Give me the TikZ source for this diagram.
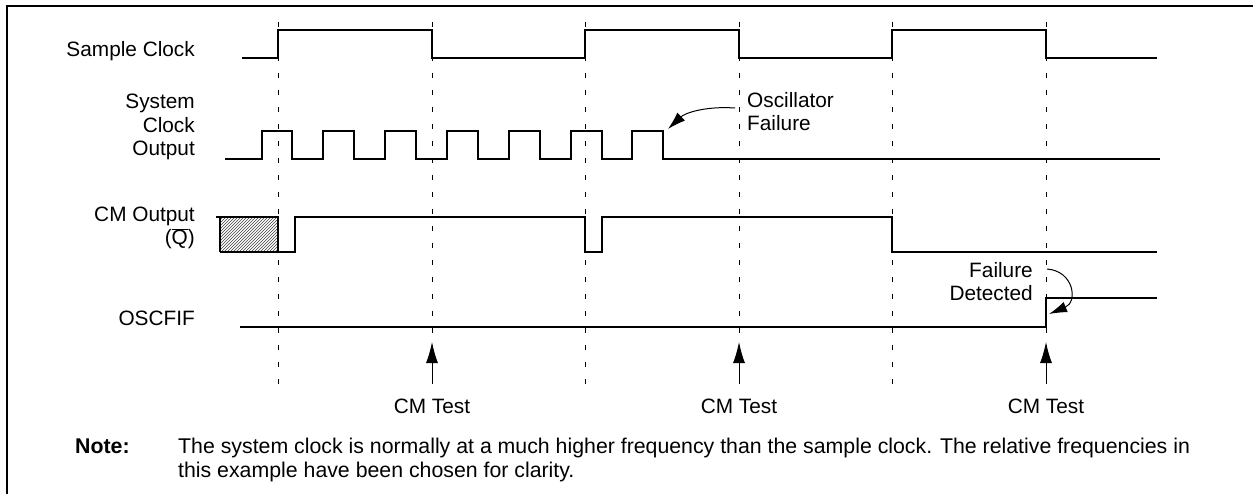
\documentclass[tikz,border=0pt]{standalone}
\usepackage{fontspec}
\setmainfont{Liberation Sans}
\usetikzlibrary{arrows.meta,patterns}
\begin{document}
\begin{tikzpicture}[x=1pt,y=-1pt,
  sig/.style={line width=1.3pt, line join=miter},
  guide/.style={line width=1pt, dash pattern=on 5pt off 12pt, dash phase=0pt},
  lbl/.style={font=\fontsize{20.8}{23.8}\selectfont, inner sep=0pt},
  notefont/.style={font=\fontsize{21.3}{24}\selectfont, inner sep=0pt},
  frameline/.style={line width=1.8pt},
  testarrow/.style={line width=1pt, -{Latex[length=21pt,width=12pt]}},
  callout/.style={line width=1pt, -{Latex[length=18pt,width=11pt]}}]
\useasboundingbox (0,0) rectangle (1253,494);
% frame
\draw[frameline] (7,494) -- (7,6) -- (1253,6);
% guides
\foreach \x [count=\i] in {278,432,585,739,892,1046}{
  \coordinate (gt\i) at (\x,22);
  \coordinate (gb\i) at (\x,393);
  \draw[guide] (gt\i) -- (gb\i);
}
% labels (base anchor = baseline of last line)
\node[lbl, anchor=base east] (lsc) at (195,57) {Sample Clock};
\node[lbl, anchor=base east, align=right] (lsys) at (195,156) {System\\Clock\\Output};
\node[lbl, anchor=base east, align=right] (lcm) at (195,245) {CM Output\\(\smash{$\overline{\hbox{Q}}$})};
\node[lbl, anchor=base east] (losc) at (195,326) {OSCFIF};
% sample clock
\draw[sig] (242,58) -- (278,58) -- (278,30) -- (432,30) -- (432,58) -- (585,58) -- (585,30)
  -- (739,30) -- (739,58) -- (892,58) -- (892,30) -- (1046,30) -- (1046,58) -- (1157,58);
% system clock
\draw[sig] (225,159)
  foreach \r/\f in {262/292,323/354,385/416,447/478,509/540,571/602,632/663}{
    -- (\r,159) -- (\r,131) -- (\f,131) -- (\f,159)}
  -- (1160,159);
% CM output
\fill[pattern=north east lines, pattern color=black!75] (220,217) rectangle (278,252);
\draw[sig] (220,217) -- (220,252);
\draw[sig] (216,217) -- (278,217) -- (278,252);
\draw[sig] (220,252) -- (295,252) -- (295,217) -- (585,217) -- (585,252) -- (602,252) -- (602,217)
  -- (892,217) -- (892,252) -- (1157,252);
% OSCFIF
\draw[sig] (240,327) -- (1046,327) -- (1046,298) -- (1157,298);
% CM test arrows
\coordinate (ab2) at (432,383); \coordinate (at2) at (432,342);
\coordinate (ab4) at (739,383); \coordinate (at4) at (739,342);
\coordinate (ab6) at (1046,383); \coordinate (at6) at (1046,342);
\foreach \i in {2,4,6}{
  \draw[testarrow] (ab\i) -- (at\i);
}
\node[lbl, anchor=base] (t2) at (432,413) {CM Test};
\node[lbl, anchor=base] (t4) at (739,413) {CM Test};
\node[lbl, anchor=base] (t6) at (1046,413) {CM Test};
% oscillator failure
\node[lbl, anchor=base west, align=left] (of) at (747,131) {Oscillator\\Failure};
\coordinate (ofs) at (735,108);
\coordinate (oft) at (668,129);
\draw[callout] (ofs) .. controls (705,106) and (685,113) .. (oft);
% failure detected
\node[lbl, anchor=base east, align=right] (fd) at (1033,301) {Failure\\Detected};
\coordinate (fds) at (1047,269);
\coordinate (fdt) at (1049,314);
\draw[callout] (fds) .. controls (1074,271) and (1078,302) .. (fdt);
% note
\node[notefont, anchor=base west, font=\fontsize{21.3}{24}\selectfont\bfseries] (nl) at (75,453) {Note:};
\node[notefont, anchor=base west, align=left] (nt) at (178,477)
  {The system clock is normally at a much higher frequency than the sample clock. The relative frequencies in\\this example have been chosen for clarity.};
\end{tikzpicture}
\end{document}
